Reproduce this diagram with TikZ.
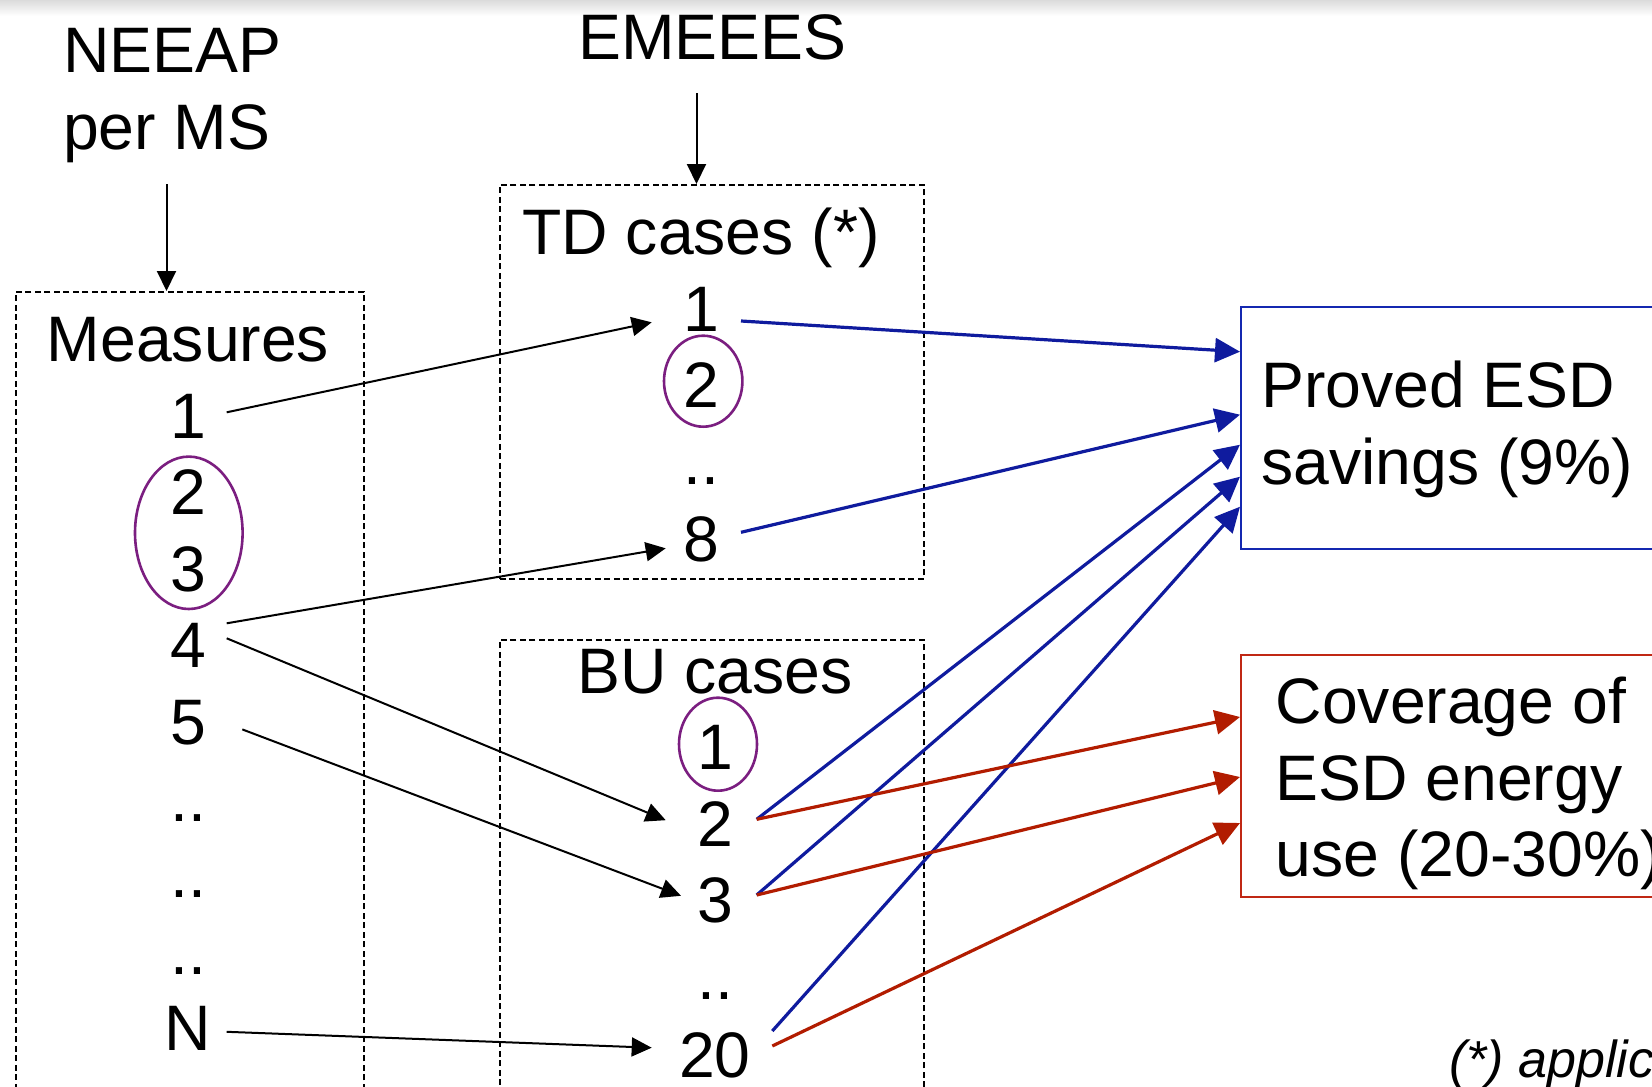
\documentclass[tikz,border=0pt]{standalone}
\usepackage{fontspec}
\setmainfont{Liberation Sans}
\usetikzlibrary{calc,arrows.meta}
\definecolor{lnblue}{HTML}{0F1B9E}
\definecolor{lnred}{HTML}{B21C00}
\definecolor{boxblue}{HTML}{1428B0}
\definecolor{boxred}{HTML}{C02814}
\definecolor{ovl}{HTML}{7B1E80}
\tikzset{
  big/.style={font=\fontsize{64.3}{76.6}\selectfont},
  num/.style={big, inner sep=0pt, anchor=base},
  dbox/.style={draw, dash pattern=on 6pt off 3.5pt, line width=1.6pt, inner sep=0pt, anchor=north west},
  blk/.style={line width=2pt, -{Triangle[length=20pt,width=19pt]}},
  blu/.style={color=lnblue, line width=3.2pt, -{Triangle[length=25pt,width=24pt]}},
  rd/.style={color=lnred, line width=3.2pt, -{Triangle[length=25pt,width=24pt]}},
  ovals/.style={draw=ovl, line width=2.6pt},
  resbox/.style={line width=2pt, inner sep=0pt, anchor=north west, minimum width=460pt, minimum height=242pt},
  txtblock/.style={big, align=left, inner sep=0pt, anchor=north west}
}
\begin{document}
\begin{tikzpicture}[x=1pt,y=-1pt]
\useasboundingbox (0,0) rectangle (1652,1087);
\fill[white] (0,0) rectangle (1652,1087);
\shade[top color=black!14, bottom color=white] (0,0) rectangle (1652,16);

% dashed boxes
\node[dbox, minimum width=348pt, minimum height=830pt] (mbox) at (15,291) {};
\node[dbox, minimum width=424pt, minimum height=394pt] (tdbox) at (499,184) {};
\node[dbox, minimum width=424pt, minimum height=470pt] (bubox) at (499,639) {};

% titles
\node[txtblock] (neeap) at (63,28) {NEEAP\\per MS};
\node[num] (emeees) at (712.5,59.5) {EMEEES};
\coordinate (na) at (166.5,184);
\draw[blk] (na) -- (na |- mbox.north);
\coordinate (ea) at (696.5,93);
\draw[blk] (ea) -- (ea |- tdbox.north);

% measures column
\node[num] (meas) at (188,361.4) {Measures};
\node[num] (m1) at (188,438) {1};
\node[num] (m2) at (188,514.6) {2};
\node[num] (m3) at (188,591.2) {3};
\node[num] (m4) at (188,667.8) {4};
\node[num] (m5) at (188,744.4) {5};
\node[num] (md1) at (188,821) {..};
\node[num] (md2) at (188,897.6) {..};
\node[num] (md3) at (188,974.2) {..};
\node[num] (mN) at (188,1050.8) {N};

% TD column
\node[num] (tdt) at (701,254.5) {TD cases (*)};
\node[num] (t1) at (701,331) {1};
\node[num] (t2) at (701,407.7) {2};
\node[num] (tdd) at (701,484.3) {..};
\node[num] (t8) at (701,561) {8};

% BU column
\node[num] (but) at (715,693) {BU cases};
\node[num] (b1) at (715,769.6) {1};
\node[num] (b2) at (715,846.2) {2};
\node[num] (b3) at (715,922.8) {3};
\node[num] (bud) at (715,999.4) {..};
\node[num] (b20) at (715,1077) {20};

% ovals
\draw[ovals] (188.8,532.8) ellipse [x radius=53.8pt, y radius=76.2pt];
\draw[ovals] (703.2,381.2) ellipse [x radius=39.2pt, y radius=45.5pt];
\draw[ovals] (718,744.2) ellipse [x radius=39pt, y radius=46.5pt];

% result boxes
\node[resbox, draw=boxblue] (proved) at (1240,305.7) {};
\node[txtblock] (provedtxt) at (1261,361) {Proved ESD\\savings (9\%)};
\node[resbox, draw=boxred] (cover) at (1240,653.5) {};
\node[txtblock] (covertxt) at (1275.5,677) {Coverage of\\ESD energy\\use (20-30\%)};

% footnote
\node[font=\fontsize{52}{60}\selectfont\itshape, inner sep=0pt, anchor=base west] (note) at (1449,1077) {(*) applic};

% black arrows
\draw[blk] ($(m1.base)+(38.7,-25.7)$) -- ($(t1.base)+(-49.3,-8.7)$);
\draw[blk] ($(m4.base)+(38.7,-44.5)$) -- ($(t8.base)+(-35.3,-12.7)$);
\draw[blk] ($(m4.base)+(38.7,-29.5)$) -- ($(b2.base)+(-49.3,-26)$);
\draw[blk] ($(m5.base)+(54.3,-15)$) -- ($(b3.base)+(-34,-27)$);
\draw[blk] ($(mN.base)+(38.7,-19)$) -- ($(b20.base)+(-63.3,-29.3)$);

% blue arrows
\draw[blu] ($(t1.base)+(40,-10)$) -- ($(proved.west)+(0,-76)$);
\draw[blu] ($(t8.base)+(40,-28.7)$) -- ($(proved.west)+(0,-13)$);
\draw[blu] ($(b2.base)+(41.7,-26.9)$) -- ($(proved.west)+(0,17)$);
\draw[blu] ($(b3.base)+(41.7,-27.8)$) -- ($(proved.west)+(0,49)$);
\draw[blu] ($(b20.base)+(57.3,-46)$) -- ($(proved.west)+(0,79)$);

% red arrows
\draw[rd] ($(b2.base)+(41.7,-26.9)$) -- ($(cover.west)+(0,-58.5)$);
\draw[rd] ($(b3.base)+(41.7,-27.8)$) -- ($(cover.west)+(0,1.5)$);
\draw[rd] ($(b20.base)+(57.3,-31)$) -- ($(cover.west)+(0,47.5)$);
\end{tikzpicture}
\end{document}
